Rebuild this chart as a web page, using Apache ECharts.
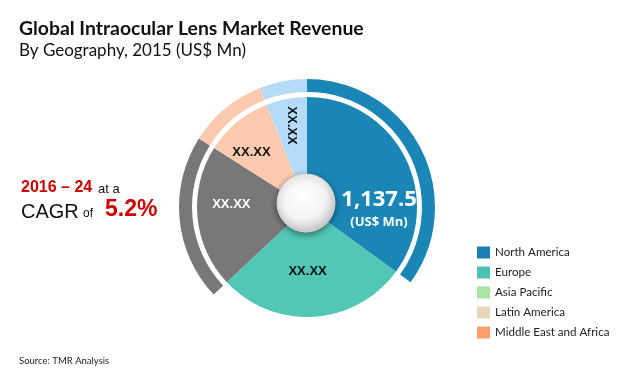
<!DOCTYPE html>
<html>
<head>
<meta charset="utf-8">
<script src="https://cdn.jsdelivr.net/npm/echarts@6/dist/echarts.min.js"></script>
<style>
  html, body { margin: 0; padding: 0; background: #fff; }
  #chart { width: 620px; height: 376px; }
</style>
</head>
<body>
<div id="chart"></div>
<script>
// Data (shares in % of the 2015 total)
const regions = ['North America', 'Europe', 'Asia Pacific', 'Latin America', 'Middle East and Africa'];
const shares = [35, 28, 21, 10, 6];
const sliceLabels = ['1,137.5', 'XX.XX', 'XX.XX', 'XX.XX', 'XX.XX'];
const totalUnit = '(US$ Mn)';
const showInRing = [true, false, true, true, true];

const pieColors = ['#1a86b6', '#52c7b5', '#787878', '#fdcab0', '#b4dcf9'];
const legendColors = ['#1a7fb4', '#4cc3b2', '#a6e6a0', '#e6d6bc', '#fd9e6e'];

const chart = echarts.init(document.getElementById('chart'));

const CX = 307, CY = 207;

const xxFont = { fontFamily: 'Liberation Sans', fontWeight: 'bold', fontSize: 13 };

// per-slice label styling (padding nudges the label off the mid-angle point)
const labelStyles = [
  {
    formatter: () => '{big|' + sliceLabels[0] + '}\n{unit|' + totalUnit + '}',
    padding: [70, 0, 0, 14],
    rich: {
      big: { fontFamily: 'Open Sans', fontWeight: 'bold', fontSize: 22, color: '#fff', lineHeight: 26 },
      unit: { fontFamily: 'Open Sans', fontWeight: 'bold', fontSize: 13, color: '#fff', lineHeight: 18 }
    }
  },
  { padding: [0, 8, 16, 0], rich: { v: { ...xxFont, color: '#111' } } },
  { padding: [0, 6, 18, 0], rich: { v: { ...xxFont, color: '#fff' } } },
  { padding: [4, 18, 0, 0], rich: { v: { ...xxFont, color: '#111' } } },
  null // drawn by the outer label ring
];

const baseData = regions.map((name, i) => ({ name: name, value: shares[i] }));

const option = {
  animation: false,
  title: [
    {
      text: 'Global Intraocular Lens Market Revenue',
      left: 14, top: 12,
      textStyle: { fontFamily: 'Lato', fontWeight: 'bold', fontSize: 19.4, color: '#111', lineHeight: 24 }
    },
    {
      text: 'By Geography, 2015 (US$ Mn)',
      left: 14, top: 35,
      textStyle: { fontFamily: 'Lato', fontWeight: 'normal', fontSize: 17, color: '#111', lineHeight: 22 }
    },
    {
      text: 'Source: TMR Analysis',
      left: 14, top: 351,
      textStyle: { fontFamily: 'Lato', fontWeight: 'normal', fontSize: 9.5, color: '#222' }
    }
  ],
  graphic: [
    { type: 'text', left: 21, top: 180, style: { text: '2016 – 24', fontFamily: 'Liberation Sans', fontWeight: 'bold', fontSize: 16, fill: '#cc0000' } },
    { type: 'text', left: 98, top: 183, style: { text: 'at a', fontFamily: 'Liberation Sans', fontSize: 13, fill: '#111' } },
    { type: 'text', left: 21, top: 202, style: { text: 'CAGR', fontFamily: 'Liberation Sans', fontSize: 20, fill: '#111' } },
    { type: 'text', left: 83, top: 208, style: { text: 'of', fontFamily: 'Liberation Sans', fontSize: 12, fill: '#111' } },
    { type: 'text', left: 105, top: 198, style: { text: '5.2%', fontFamily: 'Liberation Sans', fontWeight: 'bold', fontSize: 23, fill: '#cc0000' } }
  ],
  legend: {
    orient: 'vertical',
    left: 477, top: 246,
    padding: 0,
    icon: 'rect',
    itemWidth: 13, itemHeight: 12, itemGap: 7,
    selectedMode: false,
    textStyle: { fontFamily: 'Lato', fontSize: 11.6, color: '#222', lineHeight: 13 },
    data: regions.map((name, i) => ({ name: name, itemStyle: { color: legendColors[i] } }))
  },
  series: [
    {
      name: 'Revenue',
      type: 'pie',
      center: [CX, CY],
      radius: [0, 110],
      startAngle: 90,
      silent: true,
      label: { show: false },
      labelLine: { show: false },
      data: baseData.map((d, i) => ({ ...d, itemStyle: { color: pieColors[i] } }))
    },
    {
      name: 'Ring',
      type: 'pie',
      center: [CX, CY],
      radius: [115, 128],
      startAngle: 90,
      silent: true,
      label: { show: false },
      labelLine: { show: false },
      data: baseData.map((d, i) => ({ ...d, itemStyle: { color: showInRing[i] ? pieColors[i] : 'rgba(0,0,0,0)' } }))
    },
    {
      name: 'Labels',
      type: 'pie',
      center: [CX, CY],
      radius: [30, 110],
      startAngle: 90,
      silent: true,
      z: 3,
      itemStyle: { color: 'rgba(0,0,0,0)' },
      labelLine: { show: false },
      data: baseData.map((d, i) => ({
        ...d,
        label: labelStyles[i]
          ? { show: true, position: 'inside', formatter: '{v|' + sliceLabels[i] + '}', ...labelStyles[i] }
          : { show: false }
      }))
    },
    {
      name: 'LabelsOuter',
      type: 'pie',
      center: [CX, CY],
      radius: [50, 110],
      startAngle: 90,
      silent: true,
      z: 3,
      itemStyle: { color: 'rgba(0,0,0,0)' },
      labelLine: { show: false },
      data: baseData.map((d, i) => ({
        ...d,
        label: i === 4
          ? { show: true, position: 'inside', rotate: -90, formatter: sliceLabels[i], ...xxFont, color: '#111' }
          : { show: false }
      }))
    },
    {
      name: 'Hub',
      type: 'pie',
      center: [306, 203],
      radius: [0, 29],
      silent: true,
      z: 4,
      label: { show: false },
      labelLine: { show: false },
      itemStyle: {
        color: {
          type: 'radial', x: 0.45, y: 0.38, r: 0.65,
          colorStops: [
            { offset: 0, color: '#ffffff' },
            { offset: 0.6, color: '#f3f3f3' },
            { offset: 1, color: '#c4c4c4' }
          ]
        },
        borderColor: '#d8d8d8',
        borderWidth: 1,
        shadowBlur: 6,
        shadowOffsetY: 2,
        shadowColor: 'rgba(0,0,0,0.45)'
      },
      data: [{ name: 'hub', value: 1 }]
    }
  ]
};

chart.setOption(option);
</script>
</body>
</html>
